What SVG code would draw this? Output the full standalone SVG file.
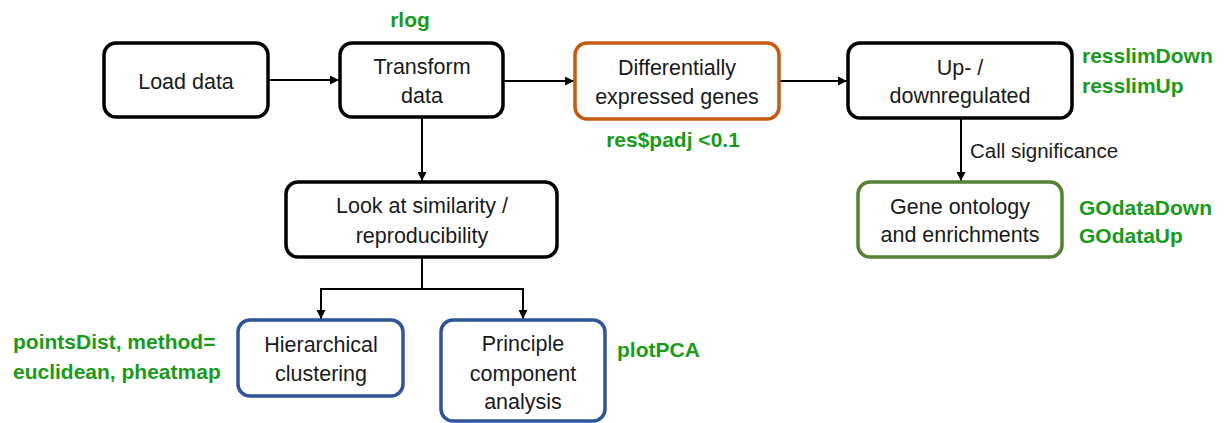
<svg xmlns="http://www.w3.org/2000/svg" width="1225" height="423" viewBox="0 0 1225 423">
<style>
.box{fill:#fff;stroke-width:3.5}
.k{stroke:#000}
.o{stroke:#C55A11}
.g{stroke:#548235}
.b{stroke:#2F5597}
.t{font-family:"Liberation Sans",Arial,sans-serif;font-size:21.5px;fill:#1a1a1a;text-anchor:middle}
.lbl{font-family:"Liberation Sans",Arial,sans-serif;font-size:21px;font-weight:bold;fill:#1a9a1a}
.c{fill:none;stroke:#000;stroke-width:2}
</style>
<defs>
<marker id="ah" viewBox="0 0 10 10" refX="10" refY="5" markerWidth="4.5" markerHeight="4.5" orient="auto" markerUnits="strokeWidth">
<path d="M0,0 L10,5 L0,10 z" fill="#000"/>
</marker>
</defs>
<rect width="1225" height="423" fill="#fff"/>
<g id="connectors">
<line class="c" x1="268" y1="80" x2="339" y2="80" marker-end="url(#ah)"/>
<line class="c" x1="503" y1="81" x2="574" y2="81" marker-end="url(#ah)"/>
<line class="c" x1="779" y1="81" x2="847" y2="81" marker-end="url(#ah)"/>
<line class="c" x1="422" y1="117" x2="422" y2="181" marker-end="url(#ah)"/>
<line class="c" x1="961" y1="118" x2="961" y2="181" marker-end="url(#ah)"/>
<polyline class="c" points="422,257 422,289 321,289 321,319" marker-end="url(#ah)"/>
<polyline class="c" points="422,289 523,289 523,319" marker-end="url(#ah)"/>
<text x="970" y="158" class="t" style="text-anchor:start;font-size:20.5px">Call significance</text>
</g>
<g id="load">
<rect class="box k" x="104" y="43" width="164" height="74" rx="12"/>
<text class="t" x="186" y="89">Load data</text>
</g>
<g id="transform">
<rect class="box k" x="340" y="43" width="163" height="74" rx="12"/>
<text class="t" x="422" y="74">Transform</text>
<text class="t" x="422" y="103">data</text>
<text class="lbl" x="410" y="27" text-anchor="middle">rlog</text>
</g>
<g id="diff">
<rect class="box o" x="575" y="43" width="204" height="76" rx="12"/>
<text class="t" x="677" y="75">Differentially</text>
<text class="t" x="677" y="104">expressed genes</text>
<text class="lbl" x="673" y="147" text-anchor="middle">res$padj &lt;0.1</text>
</g>
<g id="updown">
<rect class="box k" x="848" y="43" width="224" height="75" rx="12"/>
<text class="t" x="960" y="75">Up- /</text>
<text class="t" x="960" y="103">downregulated</text>
<text class="lbl" x="1082" y="63">resslimDown</text>
<text class="lbl" x="1082" y="93">resslimUp</text>
</g>
<g id="go">
<rect class="box g" x="858" y="182" width="204" height="75" rx="12"/>
<text class="t" x="960" y="214">Gene ontology</text>
<text class="t" x="960" y="242">and enrichments</text>
<text class="lbl" x="1079" y="215">GOdataDown</text>
<text class="lbl" x="1079" y="243">GOdataUp</text>
</g>
<g id="similarity">
<rect class="box k" x="286" y="182" width="271" height="75" rx="12"/>
<text class="t" x="422" y="213">Look at similarity /</text>
<text class="t" x="422" y="243">reproducibility</text>
</g>
<g id="hier">
<rect class="box b" x="238" y="320" width="165" height="76" rx="12"/>
<text class="t" x="321" y="352">Hierarchical</text>
<text class="t" x="321" y="381">clustering</text>
<text class="lbl" x="13" y="349">pointsDist, method=</text>
<text class="lbl" x="13" y="379">euclidean, pheatmap</text>
</g>
<g id="pca">
<rect class="box b" x="441" y="320" width="164" height="101" rx="12"/>
<text class="t" x="523" y="351">Principle</text>
<text class="t" x="523" y="381">component</text>
<text class="t" x="523" y="409">analysis</text>
<text class="lbl" x="617" y="357">plotPCA</text>
</g>
</svg>
